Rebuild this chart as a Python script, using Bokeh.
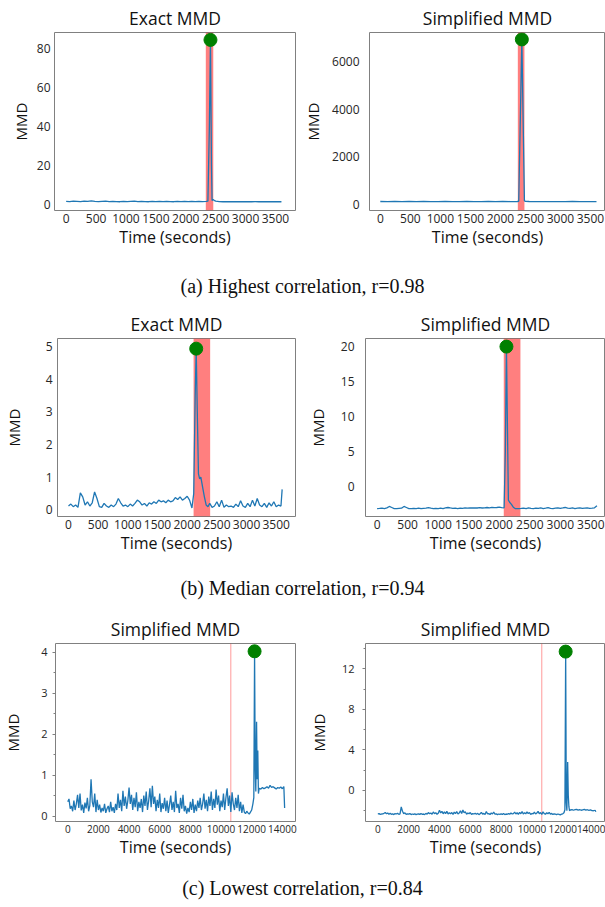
from bokeh.plotting import figure
from bokeh.models import Range1d, BoxAnnotation, Span, SingleIntervalTicker, Div
from bokeh.layouts import column, row
from bokeh.embed import file_html
from bokeh.resources import INLINE

# ---------------- data ----------------
# (a) highest correlation
a_exact_t = [0, 60, 120, 180, 240, 300, 360, 420, 480, 540, 600, 660, 720, 780, 840, 900,
             960, 1020, 1080, 1140, 1200, 1260, 1320, 1380, 1440, 1500, 1560, 1620, 1680,
             1740, 1800, 1860, 1920, 1980, 2040, 2100, 2160, 2220, 2280, 2340, 2370, 2395,
             2413, 2430, 2440, 2455, 2475, 2500, 2560, 2620, 2680, 2740, 2800, 2860, 2920,
             2980, 3040, 3100, 3160, 3220, 3280, 3340, 3400, 3460, 3520, 3600]
a_exact_v = [1.6, 1.5, 1.7, 1.6, 1.5, 1.7, 1.6, 1.8, 1.6, 1.5, 1.6, 1.7, 1.5, 1.6, 1.5, 1.4,
             1.6, 1.5, 1.6, 1.7, 1.5, 1.6, 1.5, 1.4, 1.6, 1.5, 1.6, 1.5, 1.6,
             1.5, 1.4, 1.6, 1.5, 1.6, 1.5, 1.6, 1.5, 1.6, 1.5, 1.6, 1.7, 40.0,
             84.4, 20.0, 2.0, 2.6, 2.1, 1.7, 1.5, 1.4, 1.5, 1.4, 1.5, 1.4, 1.5,
             1.4, 1.5, 1.4, 1.5, 1.4, 1.5, 1.4, 1.5, 1.4, 1.5, 1.4]

a_simp_t = [0, 120, 240, 360, 480, 600, 720, 840, 960, 1080, 1200, 1320, 1440, 1560, 1680,
            1800, 1920, 2040, 2160, 2280, 2305, 2357, 2400, 2420, 2480, 2600, 2720, 2840,
            2960, 3080, 3200, 3320, 3440, 3600]
a_simp_v = [128, 126, 130, 125, 127, 124, 128, 126, 125, 127, 126, 124, 127, 125, 126,
            128, 125, 127, 126, 128, 135, 6920, 150, 130, 127, 125, 126, 124,
            126, 125, 127, 124, 126, 125]

# (b) median correlation
b_exact_t = [0, 40, 80, 120, 160, 200, 240, 280, 320, 360,
             400, 440, 480, 520, 560, 600, 640, 680, 720, 760,
             800, 840, 880, 920, 960, 1000, 1040, 1080, 1120, 1160,
             1200, 1240, 1280, 1320, 1360, 1400, 1440, 1480, 1520, 1560,
             1600, 1640, 1680, 1720, 1760, 1800, 1840, 1880, 1920, 1960,
             2000, 2040, 2080,
             2110, 2135, 2152, 2170, 2190, 2210, 2230, 2260, 2290, 2320, 2350,
             2380, 2420, 2460, 2500, 2540, 2580, 2620, 2660, 2700, 2740,
             2780, 2820, 2860, 2900, 2940, 2980, 3020, 3060, 3100, 3140,
             3180, 3220, 3260, 3300, 3340, 3380, 3420, 3460, 3500, 3540,
             3580, 3600]
b_exact_v = [0.12, 0.18, 0.10, 0.15, 0.08, 0.52, 0.40, 0.15, 0.25, 0.12,
             0.22, 0.55, 0.35, 0.10, 0.08, 0.20, 0.12, 0.08, 0.15, 0.10,
             0.18, 0.35, 0.22, 0.12, 0.15, 0.10, 0.18, 0.12, 0.20, 0.30,
             0.25, 0.15, 0.20, 0.12, 0.22, 0.18, 0.25, 0.20, 0.30, 0.25,
             0.28, 0.22, 0.30, 0.25, 0.28, 0.38, 0.32, 0.40, 0.30, 0.35,
             0.42, 0.30, 0.06,
             0.50, 3.50, 4.93, 3.00, 1.10, 0.95, 1.00, 0.70, 0.40, 0.15, 0.10,
             0.20, 0.08, 0.12, 0.25, 0.10, 0.30, 0.08, 0.15, 0.10, 0.12,
             0.08, 0.18, 0.10, 0.28, 0.12, 0.08, 0.20, 0.10, 0.30, 0.12,
             0.35, 0.15, 0.10, 0.20, 0.08, 0.22, 0.12, 0.25, 0.10, 0.15,
             0.12, 0.63]

b_simp_t = [0, 40, 80, 120, 160, 200, 240, 280, 320, 360,
            400, 440, 480, 520, 560, 600, 640, 680, 720, 760,
            800, 840, 880, 920, 960, 1000, 1040, 1080, 1120, 1160,
            1200, 1240, 1280, 1320, 1360, 1400, 1440, 1480, 1520, 1560,
            1600, 1640, 1680, 1720, 1760, 1800, 1840, 1880, 1920, 1960,
            2000, 2040,
            2080, 2100, 2118, 2135, 2150, 2170, 2200, 2230, 2260,
            2280, 2320, 2360, 2400, 2440, 2480, 2520, 2560, 2600, 2640,
            2680, 2720, 2760, 2800, 2840, 2880, 2920, 2960, 3000, 3040,
            3080, 3120, 3160, 3200, 3240, 3280, 3320, 3360, 3400, 3440,
            3480, 3520, 3560, 3600]
b_simp_v = [-3.20, -3.18, -3.15, -3.20, -3.10, -2.90, -3.05, -3.20, -3.22, -3.18,
            -3.15, -2.90, -3.05, -3.20, -3.22, -3.18, -3.20, -3.15, -3.22, -3.18,
            -3.15, -3.08, -3.15, -3.20, -3.18, -3.22, -3.15, -3.20, -3.12, -3.05,
            -3.12, -3.18, -3.15, -3.20, -3.15, -3.18, -3.12, -3.15, -3.10, -3.12,
            -3.10, -3.12, -3.08, -3.12, -3.10, -3.05, -3.10, -3.02, -3.08, -3.05,
            -3.00, -3.08,
            -3.10, 5.00, 20.00, 8.00, -2.00, -2.30, -2.60, -3.00, -3.20,
            -3.22, -3.20, -3.18, -3.15, -3.20, -3.12, -3.18, -3.20, -3.15, -3.18,
            -3.12, -3.20, -3.15, -3.08, -3.18, -3.20, -3.15, -3.10, -3.18, -3.12,
            -3.05, -3.15, -3.18, -3.12, -3.20, -3.15, -3.10, -3.18, -3.15, -3.12,
            -3.18, -3.15, -3.10, -2.80]

# (c) lowest correlation: 80 s samples up to 12080 s, then the event and the plateau
c_step = 80
c_low_t_tail = [12140, 12190, 12230, 12270, 12320, 12360, 12400, 12440, 12480,
                12500, 12600, 12700, 12800, 12900, 13000, 13100, 13200, 13300,
                13400, 13500, 13600, 13700, 13800, 13900, 14000, 14100, 14150]

c_left_v = [0.35, 0.42, 0.18, 0.25, 0.12, 0.38, 0.15, 0.30, 0.52, 0.20,
            0.55, 0.14, 0.28, 0.08, 0.33, 0.19, 0.45, 0.12, 0.26, 0.90,
            0.35, 0.22, 0.55, 0.10, 0.40, 0.15, 0.28, 0.09, 0.20, 0.12,
            0.30, 0.08, 0.18, 0.25, 0.10, 0.35, 0.12, 0.22, 0.08, 0.30,
            0.15, 0.55, 0.20, 0.40, 0.12, 0.62, 0.25, 0.48, 0.18, 0.38,
            0.70, 0.30, 0.52, 0.15, 0.45, 0.22, 0.58, 0.12, 0.35, 0.20,
            0.42, 0.10, 0.50, 0.25, 0.60, 0.15, 0.38, 0.68, 0.22, 0.74,
            0.30, 0.48, 0.12, 0.40, 0.20, 0.55, 0.10, 0.32, 0.18, 0.45,
            0.12, 0.38, 0.08, 0.28, 0.50, 0.15, 0.35, 0.10, 0.62, 0.20,
            0.30, 0.08, 0.45, 0.18, 0.52, 0.12, 0.25, 0.06, 0.20, 0.10,
            0.35, 0.15, 0.42, 0.08, 0.28, 0.12, 0.38, 0.20, 0.45, 0.15,
            0.30, 0.55, 0.18, 0.40, 0.12, 0.48, 0.25, 0.60, 0.15, 0.42,
            0.20, 0.65, 0.28, 0.50, 0.12, 0.38, 0.22, 0.55, 0.15, 0.45,
            0.68, 0.25, 0.50, 0.10, 0.58, 0.30, 0.15, 0.45, 0.20, 0.52,
            0.12, 0.35, 0.08, 0.28, 0.10, 0.06, 0.12, 0.08, 0.05, 0.10,
            0.15, 0.30,
            0.45, 4.02, 1.20, 0.60, 2.30, 0.90, 1.60, 0.55, 0.65,
            0.68, 0.66, 0.70, 0.67, 0.69, 0.72, 0.68, 0.75, 0.70,
            0.72, 0.69, 0.66, 0.70, 0.68, 0.71, 0.67, 0.72, 0.20]

c_right_v = [-2.30, -2.28, -2.36, -2.32, -2.30, -2.25, -2.18, -2.30, -2.22, -2.34,
             -2.26, -2.35, -2.30, -2.38, -2.28, -2.32, -2.24, -2.36, -2.30, -1.62,
             -2.05, -2.28, -2.20, -2.36, -2.30, -2.34, -2.28, -2.38, -2.32, -2.36,
             -2.30, -2.38, -2.34, -2.30, -2.36, -2.28, -2.35, -2.32, -2.38, -2.26,
             -2.34, -2.18, -2.30, -2.22, -2.35, -2.12, -2.28, -2.20, -2.34, -2.24,
             -1.95, -2.22, -2.05, -2.30, -2.10, -2.28, -2.06, -2.32, -2.20, -2.30,
             -2.18, -2.35, -2.14, -2.28, -2.08, -2.32, -2.22, -2.00, -2.28, -1.92,
             -2.20, -2.10, -2.34, -2.22, -2.30, -2.18, -2.36, -2.28, -2.32, -2.24,
             -2.34, -2.26, -2.38, -2.30, -2.16, -2.34, -2.26, -2.36, -2.08, -2.30,
             -2.28, -2.38, -2.22, -2.32, -2.12, -2.34, -2.30, -2.38, -2.32, -2.36,
             -2.30, -2.36, -2.26, -2.38, -2.32, -2.35, -2.28, -2.34, -2.22, -2.32,
             -2.28, -2.14, -2.32, -2.20, -2.35, -2.16, -2.30, -2.08, -2.32, -2.20,
             -2.30, -2.12, -2.28, -2.18, -2.36, -2.26, -2.30, -2.14, -2.32, -2.22,
             -2.06, -2.30, -2.18, -2.36, -2.10, -2.28, -2.34, -2.20, -2.30, -2.16,
             -2.34, -2.26, -2.36, -2.30, -2.34, -2.38, -2.32, -2.36, -2.40, -2.34,
             -2.30, -2.20,
             -1.90, 13.70, -1.20, -2.00, 2.80, -0.50, -1.60, -2.00, -1.95,
             -1.92, -1.88, -1.95, -1.90, -1.86, -1.93, -1.89, -1.95, -1.91,
             -1.87, -1.94, -1.90, -1.96, -1.92, -1.98, -2.00, -1.95, -2.10]

c_head_t = [i * c_step for i in range(152)]
c_t = c_head_t + c_low_t_tail

# change regions (start, end) and single change points
a_exact_band = (2335, 2460)
a_simp_band = (2290, 2400)
b_exact_band = (2108, 2387)
b_simp_band = (2074, 2347)
c_change = 10640

titles = ["Exact MMD", "Simplified MMD", "Exact MMD", "Simplified MMD",
          "Simplified MMD", "Simplified MMD"]
captions = ["(a) Highest correlation, r=0.98",
            "(b) Median correlation, r=0.94",
            "(c) Lowest correlation, r=0.84"]

LINE = "#1f77b4"
FRAME = "#808080"
TICKTXT = "#262626"
FONT = "Open Sans"


def panel(title, t, v, xr, yr, xstep, ystep, width, left_border, right_border,
          label_standoff, tick_standoff, band=None, change=None, minor=False,
          xtick_size="12px", ytick_size="12px"):
    p = figure(width=width, height=260, title=title,
               x_range=Range1d(*xr), y_range=Range1d(*yr),
               output_backend="svg", toolbar_location=None,
               min_border_left=left_border, min_border_right=right_border,
               min_border_top=32, min_border_bottom=50)
    p.title.align = "center"
    p.title.text_font = FONT
    p.title.text_font_size = "17.5px"
    p.title.text_font_style = "normal"
    p.title.text_color = "#111111"
    p.title.standoff = 5
    p.grid.visible = False
    p.outline_line_color = FRAME
    p.outline_line_width = 1

    p.xaxis.ticker = SingleIntervalTicker(interval=xstep, num_minor_ticks=0)
    p.yaxis.ticker = SingleIntervalTicker(interval=ystep, num_minor_ticks=2 if minor else 0)
    for ax in (p.xaxis[0], p.yaxis[0]):
        ax.axis_line_color = None
        ax.major_tick_line_color = None
        ax.minor_tick_line_color = None
        ax.major_tick_out = 0
        ax.major_tick_in = 0
        ax.minor_tick_out = 0
        ax.minor_tick_in = 0
        ax.major_label_text_font = FONT
        ax.major_label_text_color = TICKTXT
        ax.axis_label_text_font = FONT
        ax.axis_label_text_font_style = "normal"
        ax.axis_label_text_color = "#111111"
    p.xaxis.major_label_text_font_size = xtick_size
    p.yaxis.major_label_text_font_size = ytick_size
    p.xaxis.axis_label = "Time (seconds)"
    p.xaxis.axis_label_text_font_size = "16px"
    p.xaxis.major_label_standoff = 3
    p.xaxis.axis_label_standoff = 0
    p.yaxis.axis_label = "MMD"
    p.yaxis.axis_label_text_font_size = "15px"
    p.yaxis.major_label_standoff = tick_standoff
    p.yaxis.axis_label_standoff = label_standoff
    if minor:
        p.yaxis.major_tick_line_color = FRAME
        p.yaxis.minor_tick_line_color = FRAME
        p.yaxis.major_tick_out = 3
        p.yaxis.minor_tick_out = 2

    if band is not None:
        p.add_layout(BoxAnnotation(left=band[0], right=band[1], fill_color="red",
                                   fill_alpha=0.5, line_color=None, level="underlay"))
    if change is not None:
        p.add_layout(Span(location=change, dimension="height", line_color="red",
                          line_alpha=0.4, line_width=1, level="underlay"))

    p.line(t, v, line_color=LINE, line_width=1.3)
    k = max(range(len(v)), key=lambda i: v[i])
    p.scatter([t[k]], [v[k]], size=13, fill_color="green", line_color="green")
    return p


pa1 = panel(titles[0], a_exact_t, a_exact_v, (-195, 3835), (-3.1, 88.2), 500, 20,
            300, 54, 5, 3, 4, band=a_exact_band)
pa2 = panel(titles[1], a_simp_t, a_simp_v, (-180, 3750), (-250, 7210), 500, 2000,
            305, 65, 0, 6, 10, band=a_simp_band)
pb1 = panel(titles[2], b_exact_t, b_exact_v, (-185, 3825), (-0.2, 5.24), 500, 1,
            300, 54, 5, 19, 5, band=b_exact_band)
pb2 = panel(titles[3], b_simp_t, b_simp_v, (-190, 3740), (-4.34, 21.16), 500, 5,
            305, 65, 0, 10, 11, band=b_simp_band)
pc1 = panel(titles[4], c_t, c_left_v, (-800, 14860), (-0.13, 4.21), 2000, 1,
            300, 54, 5, 15, 5, change=c_change, minor=True,
            xtick_size="10px", ytick_size="11px")
pc2 = panel(titles[5], c_t, c_right_v, (-800, 14775), (-3.06, 14.5), 2000, 4,
            305, 65, 0, 10, 8, change=c_change, minor=True,
            xtick_size="10px", ytick_size="11px")


def caption(text, height, pad):
    html = ('<div style="width:605px;text-align:center;font-family:\'Liberation Serif\','
            '\'Times New Roman\',serif;font-size:20px;line-height:20px;color:#111;'
            'padding-top:%dpx">%s</div>' % (pad, text))
    return Div(text=html, width=605, height=height, margin=0)


page = column(
    row(pa1, pa2, spacing=0),
    caption(captions[0], 46, 16),
    row(pb1, pb2, spacing=0),
    caption(captions[1], 45, 12),
    row(pc1, pc2, spacing=0),
    caption(captions[2], 36, 7),
    spacing=0,
)

open("out.html", "w").write(file_html(page, INLINE))
